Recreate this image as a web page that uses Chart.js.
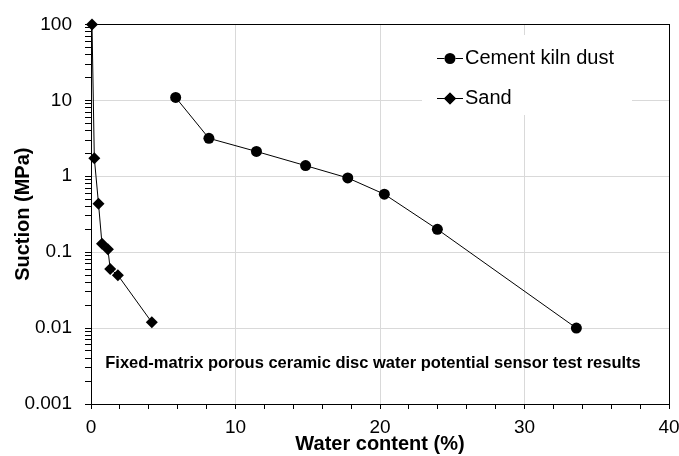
<!DOCTYPE html>
<html>
<head>
<meta charset="utf-8">
<script src="https://cdn.jsdelivr.net/npm/chart.js"></script>
<style>
  html, body { margin: 0; padding: 0; background: #fff; }
  #wrap { width: 679px; height: 456px; }
</style>
</head>
<body>
<div id="wrap"><canvas id="myChart" width="679" height="456"></canvas></div>
<script>
const cementWater = [5.86, 8.16, 11.45, 14.85, 17.77, 20.3, 23.97, 33.59];
const cementSuction = [10.9, 3.16, 2.12, 1.38, 0.95, 0.58, 0.20, 0.01];
const sandWater = [0.07, 0.23, 0.52, 0.76, 1.17, 1.33, 1.86, 4.21];
const sandSuction = [100, 1.73, 0.435, 0.129, 0.109, 0.060, 0.0497, 0.0119];
const yDecades = [0.001, 0.01, 0.1, 1, 10, 100];
const xLabelled = [0, 10, 20, 30, 40];
const note = 'Fixed-matrix porous ceramic disc water potential sensor test results';

Chart.defaults.font.family = '"Liberation Sans", Arial, sans-serif';
Chart.defaults.color = '#000';

function isDecade(v) {
    let l = Math.log10(v);
    return Math.abs(l - Math.round(l)) < 1e-9;
}

let extras = {
    id: 'extras',
    afterDraw(chart) {
        let c = chart.ctx, a = chart.chartArea;
        c.save();
        // plot frame
        c.strokeStyle = '#000';
        c.lineWidth = 1;
        c.strokeRect(Math.round(a.left) + 0.5, Math.round(a.top) + 0.5, Math.round(a.right - a.left), Math.round(a.bottom - a.top));
        // legend box
        c.fillStyle = '#fff';
        c.fillRect(422, 35, 210, 80);
        let items = chart.data.datasets;
        let rows = [58, 98];
        items.forEach((ds, i) => {
            let y = rows[i];
            c.strokeStyle = '#000';
            c.lineWidth = 1;
            c.beginPath();
            c.moveTo(437, y + 0.5);
            c.lineTo(463, y + 0.5);
            c.stroke();
            Chart.helpers.drawPoint(c, {pointStyle: ds.pointStyle, radius: ds.pointRadius, borderWidth: 0}, 450, y + 0.5);
            c.fillStyle = '#000';
            c.fill();
            c.font = '20px "Liberation Sans", Arial, sans-serif';
            c.textBaseline = 'middle';
            c.textAlign = 'left';
            c.fillText(ds.label, 465, y);
        });
        // note
        c.font = 'bold 16.5px "Liberation Sans", Arial, sans-serif';
        c.textAlign = 'center';
        c.textBaseline = 'middle';
        c.fillStyle = '#000';
        c.fillText(note, 373, 363);
        c.restore();
    }
};

let ctx = document.getElementById('myChart').getContext('2d');
let myChart = new Chart(ctx, {
    type: 'scatter',
    data: {
        datasets: [{
            label: 'Cement kiln dust',
            data: cementWater.map((w, i) => ({x: w, y: cementSuction[i]})),
            showLine: true,
            clip: false,
            borderColor: '#000',
            backgroundColor: '#000',
            borderWidth: 1,
            pointStyle: 'circle',
            pointRadius: 5.5,
            pointBorderWidth: 0
        }, {
            label: 'Sand',
            data: sandWater.map((w, i) => ({x: w, y: sandSuction[i]})),
            showLine: true,
            clip: false,
            borderColor: '#000',
            backgroundColor: '#000',
            borderWidth: 1,
            pointStyle: 'rectRot',
            pointRadius: 6,
            pointBorderWidth: 0
        }]
    },
    options: {
        responsive: false,
        animation: false,
        layout: { padding: { left: 0, top: 20, right: 10, bottom: 0 } },
        plugins: {
            legend: { display: false },
            tooltip: { enabled: false }
        },
        scales: {
            x: {
                type: 'linear',
                min: 0,
                max: 40,
                afterFit: (s) => { s.height = 52; s.paddingRight = 0; s.paddingLeft = 0; },
                ticks: {
                    stepSize: 2,
                    autoSkip: false,
                    maxRotation: 0,
                    padding: 7,
                    font: { size: 19 },
                    callback: (v) => xLabelled.includes(v) ? String(v) : ''
                },
                grid: {
                    color: (c) => c.tick && c.tick.value % 10 === 0 ? '#d9d9d9' : 'rgba(0,0,0,0)',
                    tickColor: '#000',
                    tickLength: 5
                },
                border: { color: '#000' },
                title: {
                    display: true,
                    text: 'Water content (%)',
                    font: { size: 20, weight: 'bold' },
                    padding: { top: 1, bottom: 0 }
                }
            },
            y: {
                type: 'logarithmic',
                min: 0.001,
                max: 100,
                afterFit: (s) => { s.width = 91; },
                afterBuildTicks: (s) => {
                    let t = [];
                    yDecades.forEach((d, i) => {
                        if (i === yDecades.length - 1) { t.push({value: d}); return; }
                        for (let m = 1; m < 10; m++) t.push({value: +(m * d).toPrecision(6)});
                    });
                    s.ticks = t;
                },
                ticks: {
                    autoSkip: false,
                    padding: 13,
                    font: { size: 19 },
                    callback: (v) => isDecade(v) ? String(v) : ''
                },
                grid: {
                    color: (c) => c.tick && isDecade(c.tick.value) ? '#d9d9d9' : 'rgba(0,0,0,0)',
                    tickColor: '#000',
                    tickLength: 6
                },
                border: { color: '#000' },
                title: {
                    display: true,
                    text: 'Suction (MPa)',
                    font: { size: 20, weight: 'bold' },
                    padding: { top: 11, bottom: 0 }
                }
            }
        }
    },
    plugins: [extras]
});
</script>
</body>
</html>
